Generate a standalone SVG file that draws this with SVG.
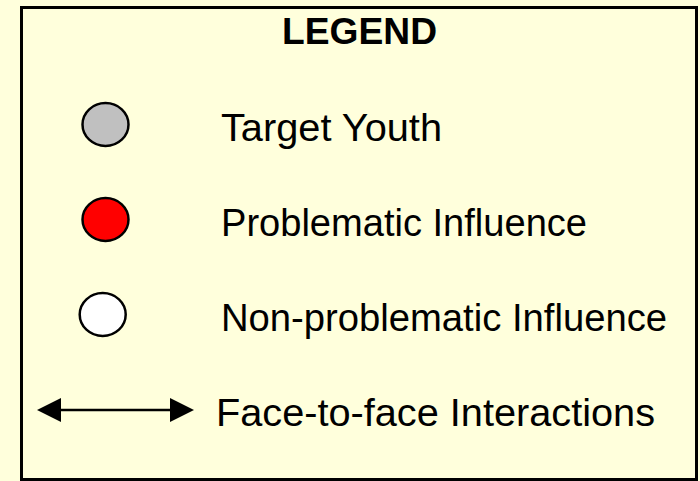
<svg xmlns="http://www.w3.org/2000/svg" width="700" height="481" viewBox="0 0 700 481">
  <style>
    .lbl { font-family: "Liberation Sans", Arial, sans-serif; font-size: 38px; fill: #000; }
    .title { font-family: "Liberation Sans", Arial, sans-serif; font-size: 36px; font-weight: bold; fill: #000; }
    .node { stroke: #000; stroke-width: 2.5; }
  </style>
  <defs>
    <marker id="ah" viewBox="0 0 24 24" refX="0" refY="12" markerWidth="24" markerHeight="24" markerUnits="userSpaceOnUse" orient="auto-start-reverse">
      <path d="M0,0 L24,12 L0,24 Z" fill="#000"/>
    </marker>
  </defs>
  <rect x="0" y="0" width="700" height="481" fill="#FFFFDC"/>
  <rect x="21.5" y="7.5" width="675" height="472" fill="#FFFFDC" stroke="#000" stroke-width="3"/>
  <text class="title" x="282" y="44" textLength="155" lengthAdjust="spacingAndGlyphs">LEGEND</text>
  <g id="target-youth">
    <ellipse class="node" cx="105.5" cy="124.5" rx="23" ry="21.5" fill="#C0C0C0"/>
    <text class="lbl" x="221" y="141" textLength="221" lengthAdjust="spacingAndGlyphs">Target Youth</text>
  </g>
  <g id="problematic">
    <ellipse class="node" cx="105.5" cy="219.5" rx="23" ry="21.5" fill="#FF0000"/>
    <text class="lbl" x="221" y="236" textLength="366" lengthAdjust="spacingAndGlyphs">Problematic Influence</text>
  </g>
  <g id="non-problematic">
    <ellipse class="node" cx="102.7" cy="314.5" rx="23" ry="21.5" fill="#FFFFFF"/>
    <text class="lbl" x="221" y="331" textLength="446" lengthAdjust="spacingAndGlyphs">Non-problematic Influence</text>
  </g>
  <g id="connectors">
    <line x1="61" y1="410" x2="170" y2="410" stroke="#000" stroke-width="2.5" marker-start="url(#ah)" marker-end="url(#ah)"/>
    <text class="lbl" x="216" y="426" textLength="439" lengthAdjust="spacingAndGlyphs">Face-to-face Interactions</text>
  </g>
</svg>
